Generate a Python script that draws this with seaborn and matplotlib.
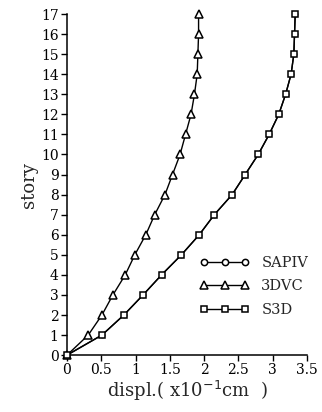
import pandas as pd
import seaborn as sns
import matplotlib.pyplot as plt

sns.set_theme(style="ticks")
plt.rcParams['font.family'] = ['DejaVu Serif']

story = list(range(18))
# (x10^-1 cm)
dvc = [0, 0.31, 0.51, 0.67, 0.85, 0.99, 1.15, 1.28, 1.43, 1.54, 1.65, 1.73, 1.81, 1.86, 1.90, 1.91, 1.92, 1.92]
s3d = [0, 0.51, 0.83, 1.11, 1.38, 1.67, 1.93, 2.15, 2.41, 2.60, 2.79, 2.95, 3.09, 3.19, 3.27, 3.31, 3.32, 3.33]
sapiv = [0, 0.51, 0.83, 1.11, 1.38, 1.67, 1.93, 2.15, 2.41, 2.60, 2.79, 2.95, 3.09, 3.19, 3.27, 3.31, 3.32, 3.33]
xticks = [0, 0.5, 1, 1.5, 2, 2.5, 3, 3.5]
xticklabels = ['0', '0.5', '1', '1.5', '2', '2.5', '3', '3.5']

fig = plt.figure(figsize=(3.22, 4.12), dpi=100)
ax = fig.add_axes([0.208, 0.138, 0.745, 0.828])

series = [('SAPIV', sapiv, 'o', 3), ('3DVC', dvc, '^', 5.5), ('S3D', s3d, 's', 4)]
for name, vals, mk, ms in series:
    df = pd.DataFrame({'displ': vals, 'story': story})
    sns.lineplot(data=df, x='displ', y='story', sort=False, estimator=None, ax=ax,
                 color='black', lw=1.0, marker=mk, markersize=ms, markerfacecolor='white',
                 markeredgecolor='black', markeredgewidth=1.1, label=name,
                 clip_on=False, zorder=3)

ax.set_xlim(0, 3.5)
ax.set_ylim(0, 17)
ax.set_xticks(xticks)
ax.set_xticklabels(xticklabels)
ax.set_yticks(range(18))
ax.tick_params(direction='out', length=4, width=1, labelsize=10, colors='black', pad=2)
for side in ['top', 'right']:
    ax.spines[side].set_visible(False)
for side in ['left', 'bottom']:
    ax.spines[side].set_color('black')
    ax.spines[side].set_linewidth(1.1)

ax.set_xlabel('displ.( x10$^{-1}$cm  )', fontsize=13, labelpad=1)
ax.set_ylabel('story', fontsize=13, labelpad=2)

leg = ax.legend(loc='upper left', bbox_to_anchor=(0.50, 0.33), frameon=False, numpoints=3,
                handlelength=3.4, fontsize=10.5, labelspacing=0.65, handletextpad=0.8)
leg.get_lines()[0].set_markersize(4.5)

fig.savefig('out.png', dpi=100)
